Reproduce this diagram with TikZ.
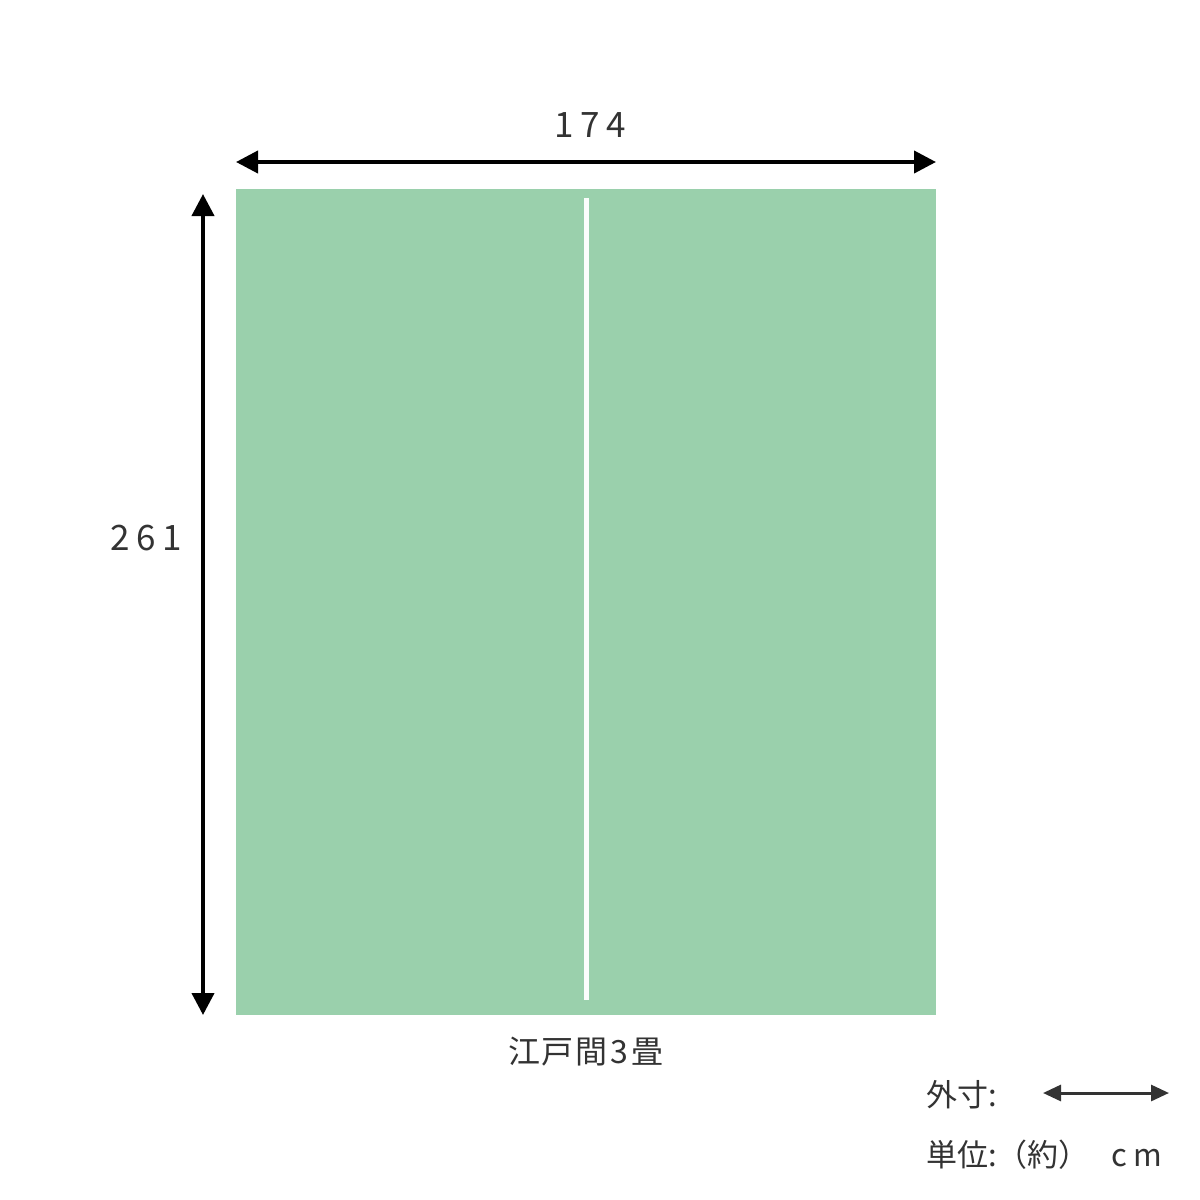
\documentclass[tikz,border=0pt]{standalone}
\usepackage{fontspec}
\setmainfont{Noto Sans CJK JP}
\usetikzlibrary{arrows.meta}
\definecolor{tatami}{HTML}{9AD0AC}
\definecolor{txt}{HTML}{333333}
\begin{document}
\begin{tikzpicture}[x=1pt,y=-1pt,
  dimarrow/.style={line width=4pt,{Triangle[length=22pt,width=22pt]}-{Triangle[length=22pt,width=22pt]}},
  legarrow/.style={txt,line width=3pt,{Triangle[length=18pt,width=16pt]}-{Triangle[length=18pt,width=16pt]}},
  num/.style={text=txt,font=\fontsize{35}{35}\selectfont\addfontfeature{LetterSpace=18},inner sep=0pt},
  lab/.style={text=txt,font=\fontsize{32}{32}\selectfont\addfontfeature{LetterSpace=4},inner sep=0pt},
  leg/.style={text=txt,font=\fontsize{31}{31}\selectfont,inner sep=0pt,anchor=west}]
\useasboundingbox (0,0) rectangle (1200,1200);
\fill[tatami] (236,189) rectangle (936,1015);
\fill[white!96!tatami] (584,198) rectangle (589,1000);
\coordinate (tl) at (236,162);
\coordinate (tr) at (936,162);
\coordinate (lt) at (203,194);
\coordinate (lb) at (203,1015);
\draw[dimarrow] (tl) -- (tr);
\draw[dimarrow] (lt) -- (lb);
\node[num] (w) at (590,125) {174};
\node[num] (h) at (146,538) {261};
\node[lab] (name) at (586,1052) {江戸間\hspace{0.1em}3\hspace{0.1em}畳};
\node[leg] (gai) at (926,1095) {外寸:};
\node[leg] (unit) at (926,1155) {単位:（約）\hspace{0.7em}c\hspace{0.2em}m};
\coordinate (la) at (1043,1093);
\coordinate (lz) at (1169,1093);
\draw[legarrow] (la) -- (lz);
\end{tikzpicture}
\end{document}
